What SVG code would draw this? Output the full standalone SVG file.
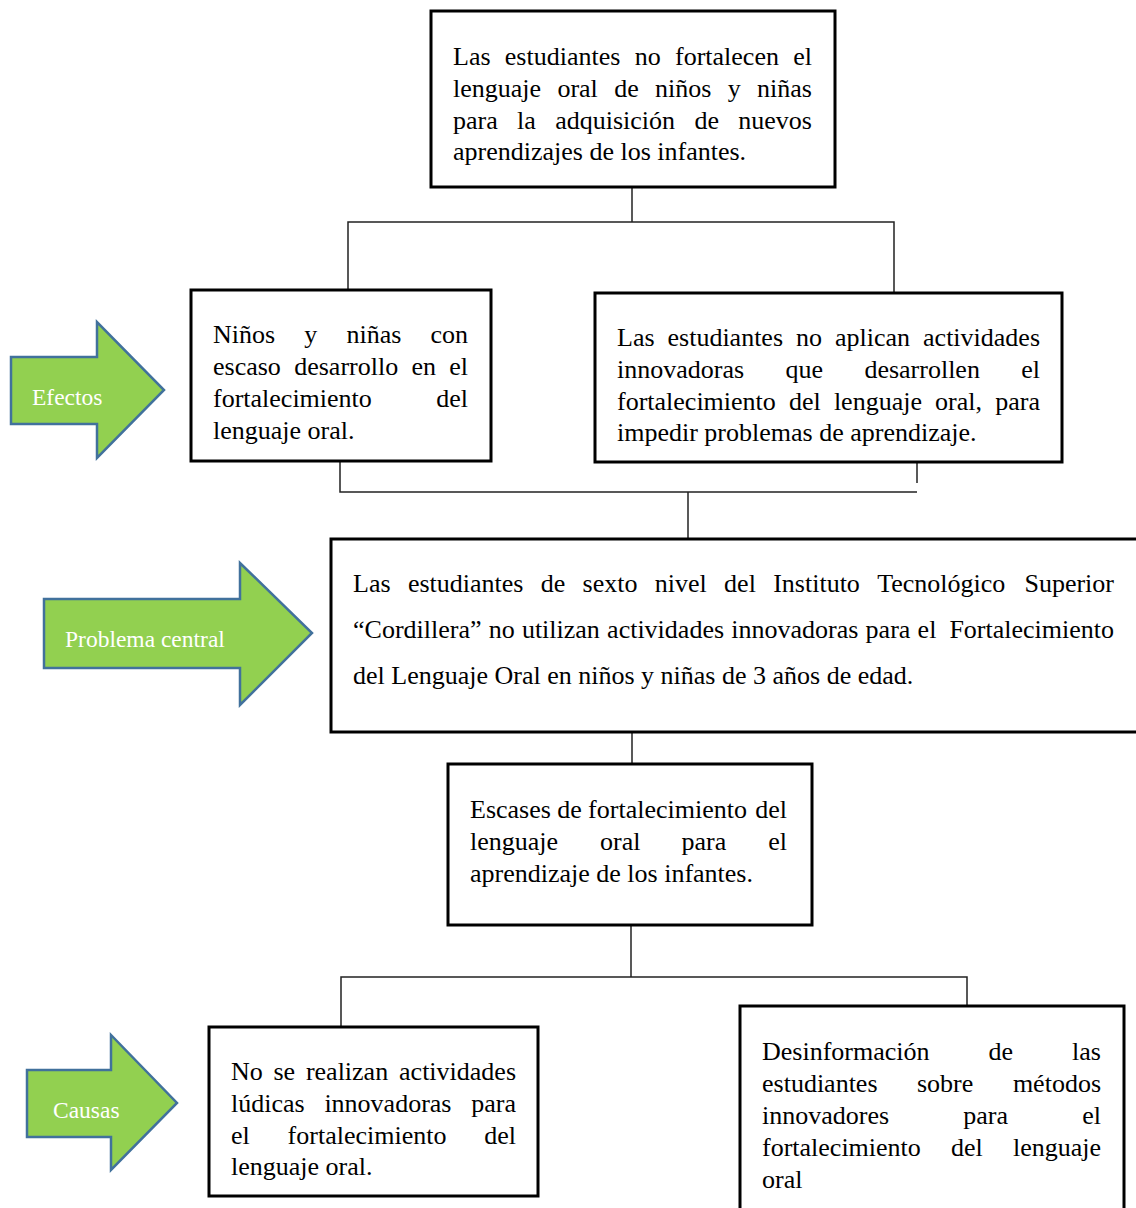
<svg xmlns="http://www.w3.org/2000/svg" width="1136" height="1208" viewBox="0 0 1136 1208">
<style>
.box{fill:#fff;stroke:#000;stroke-width:3}
.t{font-family:"Liberation Serif","Times New Roman",serif;font-size:26px;fill:#000}
.e{text-anchor:end}
.arr{fill:#92D050;stroke:#41719C;stroke-width:2.5;stroke-linejoin:miter}
.al{font-family:"Liberation Serif","Times New Roman",serif;font-size:23.5px;fill:#fff}
.c{fill:none;stroke:#222;stroke-width:1.5}
</style>
<rect width="1136" height="1208" fill="#fff"/>
<g id="connectors">
<polyline class="c" points="632,187 632,222"/>
<polyline class="c" points="348,290 348,222 894,222 894,293"/>
<polyline class="c" points="340,462 340,492 917,492"/>
<polyline class="c" points="917,455 917,483"/>
<polyline class="c" points="688,492 688,539"/>
<polyline class="c" points="632,732 632,764"/>
<polyline class="c" points="631,925 631,977"/>
<polyline class="c" points="341,1027 341,977 967,977 967,1006"/>
</g>
<g id="arrow-efectos">
<polygon class="arr" points="11,357 97,357 97,322 164,390 97,458 97,424 11,424"/>
<text class="al" x="32" y="405">Efectos</text>
</g>
<g id="arrow-problema">
<polygon class="arr" points="44,599 240,599 240,563 312,633 240,705 240,668 44,668"/>
<text class="al" x="65" y="647">Problema central</text>
</g>
<g id="arrow-causas">
<polygon class="arr" points="27,1070 111,1070 111,1035 177,1103 111,1170 111,1137 27,1137"/>
<text class="al" x="53" y="1118">Causas</text>
</g>
<g id="node-top">
<rect class="box" x="431" y="11" width="404" height="176"/>
<text class="t" y="65"><tspan x="453">Las</tspan><tspan x="504.8">estudiantes</tspan><tspan x="634.7">no</tspan><tspan x="675">fortalecen</tspan></text>
<text class="t e" x="812" y="65">el</text>
<text class="t" y="97"><tspan x="453">lenguaje</tspan><tspan x="557.4">oral</tspan><tspan x="614.2">de</tspan><tspan x="655.1">niños</tspan><tspan x="727.8">y</tspan></text>
<text class="t e" x="812" y="97">niñas</text>
<text class="t" y="129"><tspan x="453">para</tspan><tspan x="517.1">la</tspan><tspan x="555.2">adquisición</tspan><tspan x="694.4">de</tspan></text>
<text class="t e" x="812" y="129">nuevos</text>
<text class="t" x="453" y="160">aprendizajes de los infantes.</text>
</g>
<g id="node-efecto-1">
<rect class="box" x="191" y="290" width="300" height="171"/>
<text class="t" y="343"><tspan x="213">Niños</tspan><tspan x="304.3">y</tspan><tspan x="346.5">niñas</tspan></text>
<text class="t e" x="468" y="343">con</text>
<text class="t" y="375"><tspan x="213">escaso</tspan><tspan x="294.2">desarrollo</tspan><tspan x="411.5">en</tspan></text>
<text class="t e" x="468" y="375">el</text>
<text class="t" x="213" y="407">fortalecimiento</text>
<text class="t e" x="468" y="407">del</text>
<text class="t" x="213" y="439">lenguaje oral.</text>
</g>
<g id="node-efecto-2">
<rect class="box" x="595" y="293" width="467" height="169"/>
<text class="t" y="346"><tspan x="617">Las</tspan><tspan x="667.5">estudiantes</tspan><tspan x="796">no</tspan><tspan x="835">aplican</tspan></text>
<text class="t e" x="1040" y="346">actividades</text>
<text class="t" y="378"><tspan x="617">innovadoras</tspan><tspan x="785.5">que</tspan><tspan x="864.4">desarrollen</tspan></text>
<text class="t e" x="1040" y="378">el</text>
<text class="t" y="410"><tspan x="617">fortalecimiento</tspan><tspan x="789">del</tspan><tspan x="833.9">lenguaje</tspan><tspan x="935.1">oral,</tspan></text>
<text class="t e" x="1040" y="410">para</text>
<text class="t" x="617" y="441">impedir problemas de aprendizaje.</text>
</g>
<g id="node-problema-central">
<rect class="box" x="331" y="539" width="810" height="193"/>
<text class="t" y="592"><tspan x="353">Las</tspan><tspan x="407.9">estudiantes</tspan><tspan x="540.7">de</tspan><tspan x="582.6">sexto</tspan><tspan x="654.8">nivel</tspan><tspan x="724.1">del</tspan><tspan x="773.2">Instituto</tspan><tspan x="877.2">Tecnológico</tspan></text>
<text class="t e" x="1114" y="592">Superior</text>
<text class="t" y="638"><tspan x="353">“Cordillera”</tspan><tspan x="488.7">no</tspan><tspan x="521.9">utilizan</tspan><tspan x="607.1">actividades</tspan><tspan x="731.3">innovadoras</tspan><tspan x="865.6">para</tspan><tspan x="917.6">el</tspan></text>
<text class="t e" x="1114" y="638">Fortalecimiento</text>
<text class="t" x="353" y="684">del Lenguaje Oral en niños y niñas de 3 años de edad.</text>
</g>
<g id="node-escases">
<rect class="box" x="448" y="764" width="364" height="161"/>
<text class="t" y="818"><tspan x="470">Escases</tspan><tspan x="557.2">de</tspan><tspan x="588.1">fortalecimiento</tspan></text>
<text class="t e" x="787" y="818">del</text>
<text class="t" y="850"><tspan x="470">lenguaje</tspan><tspan x="600">oral</tspan><tspan x="681.5">para</tspan></text>
<text class="t e" x="787" y="850">el</text>
<text class="t" x="470" y="882">aprendizaje de los infantes.</text>
</g>
<g id="node-causa-1">
<rect class="box" x="209" y="1027" width="329" height="169"/>
<text class="t" y="1080"><tspan x="231">No</tspan><tspan x="273.5">se</tspan><tspan x="305.9">realizan</tspan></text>
<text class="t e" x="516" y="1080">actividades</text>
<text class="t" y="1112"><tspan x="231">lúdicas</tspan><tspan x="324.4">innovadoras</tspan></text>
<text class="t e" x="516" y="1112">para</text>
<text class="t" y="1144"><tspan x="231">el</tspan><tspan x="287.6">fortalecimiento</tspan></text>
<text class="t e" x="516" y="1144">del</text>
<text class="t" x="231" y="1175">lenguaje oral.</text>
</g>
<g id="node-causa-2">
<rect class="box" x="740" y="1006" width="384" height="215"/>
<text class="t" y="1060"><tspan x="762">Desinformación</tspan><tspan x="988.5">de</tspan></text>
<text class="t e" x="1101" y="1060">las</text>
<text class="t" y="1092"><tspan x="762">estudiantes</tspan><tspan x="917">sobre</tspan></text>
<text class="t e" x="1101" y="1092">métodos</text>
<text class="t" y="1124"><tspan x="762">innovadores</tspan><tspan x="963.3">para</tspan></text>
<text class="t e" x="1101" y="1124">el</text>
<text class="t" y="1156"><tspan x="762">fortalecimiento</tspan><tspan x="951">del</tspan></text>
<text class="t e" x="1101" y="1156">lenguaje</text>
<text class="t" x="762" y="1188">oral</text>
</g>
</svg>
